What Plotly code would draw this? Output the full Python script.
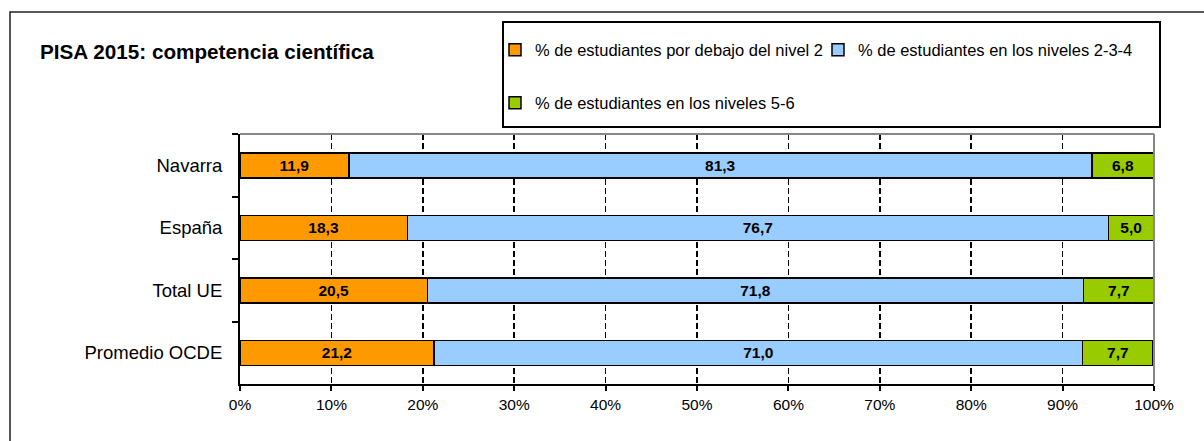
import plotly.graph_objects as go

categories = ["Navarra", "España", "Total UE", "Promedio OCDE"]
below_2 = [11.9, 18.3, 20.5, 21.2]
levels_234 = [81.3, 76.7, 71.8, 71.0]
levels_56 = [6.8, 5.0, 7.7, 7.7]
series_names = [
    "% de estudiantes por debajo del nivel 2",
    "% de estudiantes en los niveles 2-3-4",
    "% de estudiantes en los niveles 5-6",
]
tick_vals = [0, 10, 20, 30, 40, 50, 60, 70, 80, 90, 100]
tick_labels = ["0%", "10%", "20%", "30%", "40%", "50%", "60%", "70%", "80%", "90%", "100%"]
title_text = "PISA 2015: competencia científica"

colors = ["#FF9900", "#99CCFF", "#99CC00"]
FONT = "Liberation Sans, Arial, sans-serif"

fig = go.Figure()
for vals, name, col, lg in zip([below_2, levels_234, levels_56], series_names, colors,
                               ["legend", "legend", "legend2"]):
    fig.add_trace(go.Bar(
        y=categories, x=vals, name=name, orientation="h",
        marker=dict(color=col, line=dict(color="black", width=1.5)),
        texttemplate="%{x:.1f}", textposition="inside", insidetextanchor="middle",
        textfont=dict(family=FONT, size=15.5, color="black", weight="bold"),
        textangle=0, constraintext="none",
        legend=lg, hoverinfo="skip",
    ))

L, R, T, B = 240, 1154, 134, 384
W, H = R - L, B - T
def px(x):
    return (x - L) / W
def py(y):
    return (B - y) / H

fig.update_layout(
    width=1204, height=441,
    margin=dict(l=L, r=1204 - R, t=T, b=441 - B, autoexpand=False),
    barmode="stack", bargap=0.6,
    separators=",.",
    paper_bgcolor="white", plot_bgcolor="white",
    font=dict(family=FONT, color="black"),
    title=dict(text=title_text, xref="container", yref="container",
               x=40 / 1204, y=1 - 52 / 441, xanchor="left", yanchor="middle",
               font=dict(family=FONT, size=20.7, color="black", weight="bold")),
    xaxis=dict(range=[0, 100], tickvals=tick_vals, ticktext=tick_labels,
               showgrid=True, gridcolor="black", gridwidth=1.5, griddash="6px,3px",
               ticks="outside", ticklen=5, tickwidth=2, tickcolor="black",
               showline=True, linecolor="black", linewidth=2,
               tickfont=dict(family=FONT, size=15.5, color="black"),
               zeroline=False, fixedrange=True),
    yaxis=dict(categoryorder="array", categoryarray=categories, autorange="reversed",
               tickson="boundaries", ticks="outside", ticklen=6, tickwidth=2,
               tickcolor="black", showline=True, linecolor="black", linewidth=2,
               showgrid=False, ticklabelstandoff=12,
               tickfont=dict(family=FONT, size=18.5, color="black"), fixedrange=True),
    legend=dict(orientation="h", x=px(495), y=py(50), xanchor="left", yanchor="middle",
                entrywidth=278, entrywidthmode="pixels", itemwidth=30,
                bgcolor="rgba(0,0,0,0)", borderwidth=0,
                font=dict(family=FONT, size=16.5, color="black"), traceorder="normal"),
    legend2=dict(orientation="h", x=px(495), y=py(103), xanchor="left", yanchor="middle",
                 itemwidth=30, bgcolor="rgba(0,0,0,0)", borderwidth=0,
                 font=dict(family=FONT, size=16.5, color="black")),
    showlegend=True,
    shapes=[
        # outer frame
        dict(type="rect", xref="paper", yref="paper", x0=px(10), x1=px(1230),
             y0=py(470), y1=py(12), line=dict(color="#222", width=1.5), layer="above"),
        # legend box
        dict(type="rect", xref="paper", yref="paper", x0=px(503), x1=px(1160),
             y0=py(127), y1=py(22), line=dict(color="black", width=2)),
        # plot area top & right edges
        dict(type="line", xref="paper", yref="paper", x0=0, x1=1, y0=1, y1=1,
             line=dict(color="#888", width=2)),
        dict(type="line", xref="paper", yref="paper", x0=1, x1=1, y0=0, y1=1,
             line=dict(color="#888", width=2)),
    ],
)

fig.write_html("out.html", config={"displayModeBar": False, "staticPlot": True},
               post_script="document.body.style.margin='0';document.body.style.overflow='hidden';")
